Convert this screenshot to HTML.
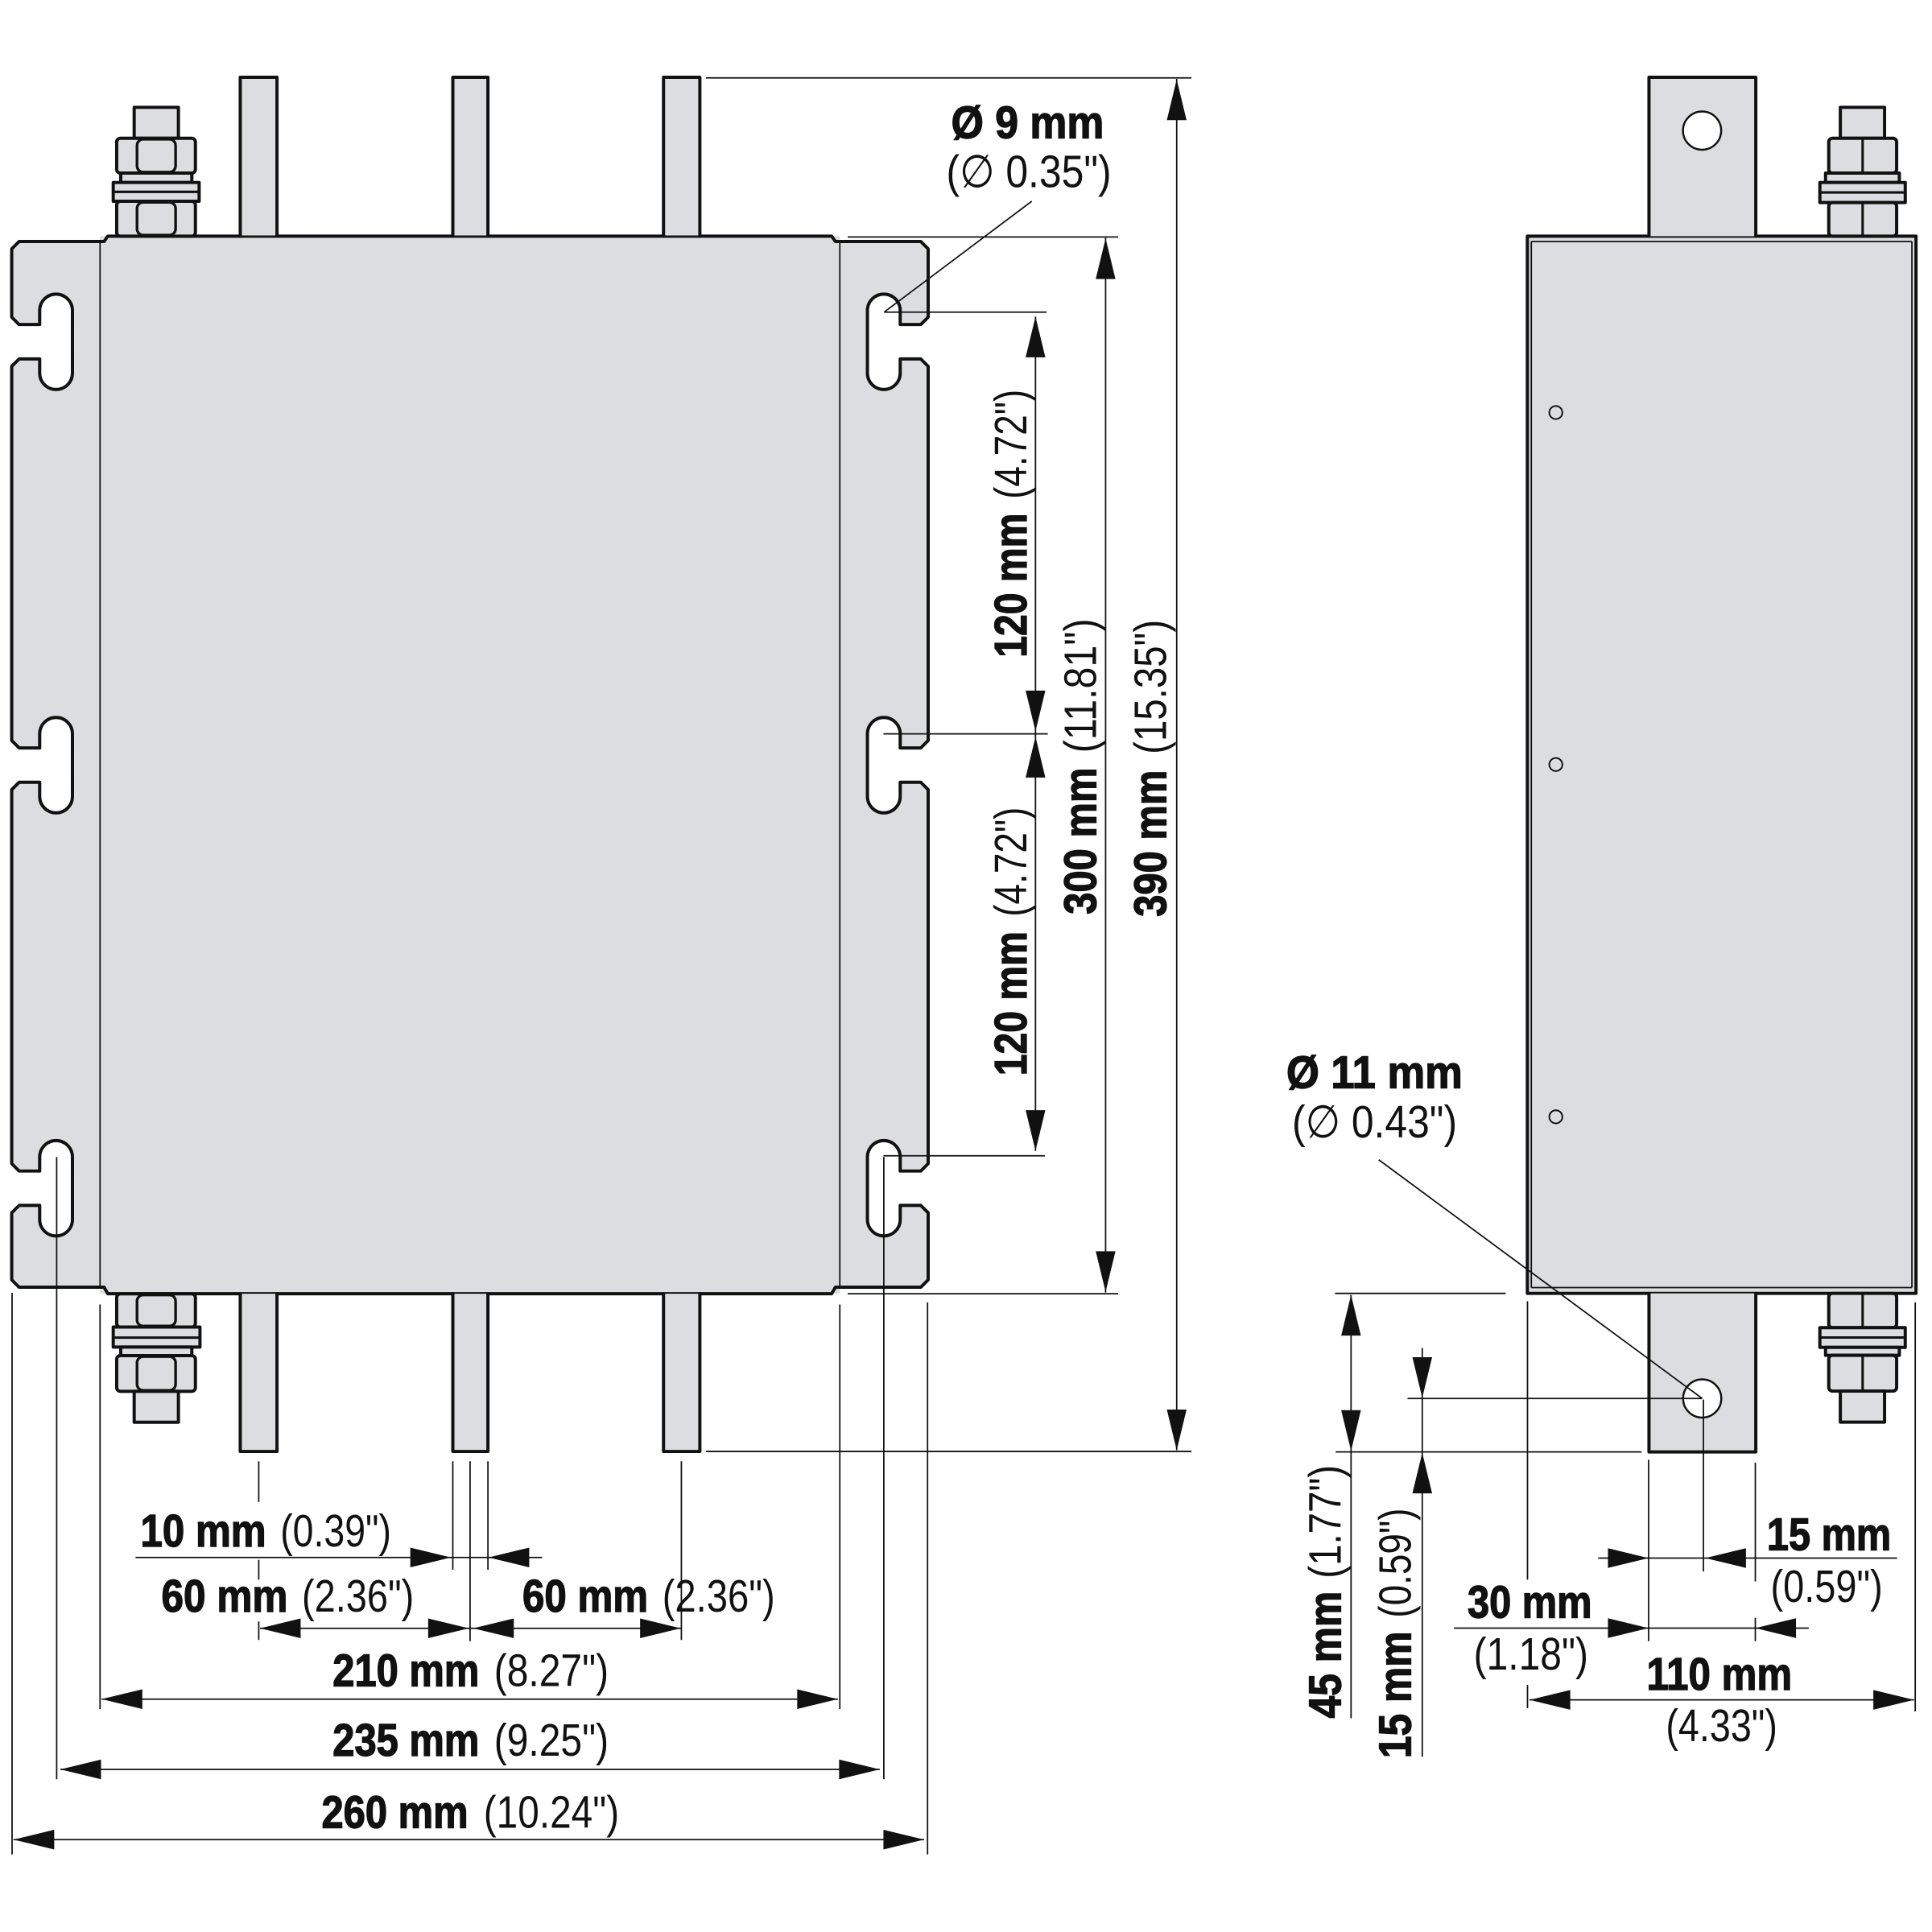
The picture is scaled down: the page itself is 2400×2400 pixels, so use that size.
<!DOCTYPE html>
<html><head><meta charset="utf-8"><style>
html,body{margin:0;padding:0;background:#fff}
svg{display:block}
.b{font-family:"Liberation Sans","DejaVu Sans",sans-serif;font-weight:bold;font-size:37px;fill:#111;stroke:#111;stroke-width:0.9}
.r{font-family:"Liberation Sans","DejaVu Sans",sans-serif;font-weight:normal;font-size:37px;fill:#111}
.th{fill:none;stroke:#111;stroke-width:2.6;stroke-linejoin:round;stroke-linecap:round}
.tn{fill:none;stroke:#111;stroke-width:1.15}
.md{fill:none;stroke:#111;stroke-width:2}
.g{fill:#dcdde0}
.gs{fill:#dcdde0;stroke:#111;stroke-width:2.6;stroke-linejoin:round}
.gm{fill:#dcdde0;stroke:#111;stroke-width:2.2;stroke-linejoin:round}
.ah{fill:#111}
</style></head><body>
<svg width="2400" height="2400" viewBox="0 0 1568 1568" xmlns="http://www.w3.org/2000/svg">

<rect class="g" x="81.2" y="191.7" width="600.4" height="858.3"/>
<path class="g" d="M681.6,196 L747.3,196 L753.3,202 L753.3,257.4 L747.3,263.4 L730.6,263.4 L730.6,252 A13.3 13.3 0 0 0 704,252 L704,302.8 A13.3 13.3 0 0 0 730.6,302.8 L730.6,291.3 L747.3,291.3 L753.3,297.3 L753.3,601 L747.3,607 L730.6,607 L730.6,595.6 A13.3 13.3 0 0 0 704,595.6 L704,646.4 A13.3 13.3 0 0 0 730.6,646.4 L730.6,634.9 L747.3,634.9 L753.3,640.9 L753.3,944.4 L747.3,950.4 L730.6,950.4 L730.6,939 A13.3 13.3 0 0 0 704,939 L704,989.8 A13.3 13.3 0 0 0 730.6,989.8 L730.6,978.3 L747.3,978.3 L753.3,984.3 L753.3,1038.7 L747.3,1044.7 L681.6,1044.7 Z"/>
<path class="g" d="M81.2,196 L15.5,196 L9.5,202 L9.5,257.4 L15.5,263.4 L32.2,263.4 L32.2,252 A13.3 13.3 0 0 1 58.8,252 L58.8,302.8 A13.3 13.3 0 0 1 32.2,302.8 L32.2,291.3 L15.5,291.3 L9.5,297.3 L9.5,601 L15.5,607 L32.2,607 L32.2,595.6 A13.3 13.3 0 0 1 58.8,595.6 L58.8,646.4 A13.3 13.3 0 0 1 32.2,646.4 L32.2,634.9 L15.5,634.9 L9.5,640.9 L9.5,944.4 L15.5,950.4 L32.2,950.4 L32.2,939 A13.3 13.3 0 0 1 58.8,939 L58.8,989.8 A13.3 13.3 0 0 1 32.2,989.8 L32.2,978.3 L15.5,978.3 L9.5,984.3 L9.5,1038.7 L15.5,1044.7 L81.2,1044.7 Z"/>
<path class="th" d="M681.6,196 L747.3,196 L753.3,202 L753.3,257.4 L747.3,263.4 L730.6,263.4 L730.6,252 A13.3 13.3 0 0 0 704,252 L704,302.8 A13.3 13.3 0 0 0 730.6,302.8 L730.6,291.3 L747.3,291.3 L753.3,297.3 L753.3,601 L747.3,607 L730.6,607 L730.6,595.6 A13.3 13.3 0 0 0 704,595.6 L704,646.4 A13.3 13.3 0 0 0 730.6,646.4 L730.6,634.9 L747.3,634.9 L753.3,640.9 L753.3,944.4 L747.3,950.4 L730.6,950.4 L730.6,939 A13.3 13.3 0 0 0 704,939 L704,989.8 A13.3 13.3 0 0 0 730.6,989.8 L730.6,978.3 L747.3,978.3 L753.3,984.3 L753.3,1038.7 L747.3,1044.7 L681.6,1044.7"/>
<path class="th" d="M81.2,196 L15.5,196 L9.5,202 L9.5,257.4 L15.5,263.4 L32.2,263.4 L32.2,252 A13.3 13.3 0 0 1 58.8,252 L58.8,302.8 A13.3 13.3 0 0 1 32.2,302.8 L32.2,291.3 L15.5,291.3 L9.5,297.3 L9.5,601 L15.5,607 L32.2,607 L32.2,595.6 A13.3 13.3 0 0 1 58.8,595.6 L58.8,646.4 A13.3 13.3 0 0 1 32.2,646.4 L32.2,634.9 L15.5,634.9 L9.5,640.9 L9.5,944.4 L15.5,950.4 L32.2,950.4 L32.2,939 A13.3 13.3 0 0 1 58.8,939 L58.8,989.8 A13.3 13.3 0 0 1 32.2,989.8 L32.2,978.3 L15.5,978.3 L9.5,984.3 L9.5,1038.7 L15.5,1044.7 L81.2,1044.7"/>
<path class="th" d="M81.2,196 L84.5,196 L87.5,191.7 L675,191.7 L678,196 L681.6,196"/>
<path class="th" d="M81.2,1044.7 L84.5,1044.7 L87.5,1050 L675,1050 L678,1044.7 L681.6,1044.7"/>
<line class="tn" x1="81.2" y1="196" x2="81.2" y2="1044.7"/>
<line class="tn" x1="681.6" y1="196" x2="681.6" y2="1044.7"/>

<rect class="g" x="195" y="62.7" width="29.8" height="129"/>
<rect class="g" x="367.5" y="62.7" width="28.5" height="129"/>
<rect class="g" x="538.5" y="62.7" width="29.5" height="129"/>
<path class="th" d="M195,191.7 L195,62.7 L224.8,62.7 L224.8,191.7"/>
<path class="th" d="M367.5,191.7 L367.5,62.7 L396,62.7 L396,191.7"/>
<path class="th" d="M538.5,191.7 L538.5,62.7 L568,62.7 L568,191.7"/>
<line class="tn" x1="195" y1="191.7" x2="224.8" y2="191.7"/>
<line class="tn" x1="367.5" y1="191.7" x2="396" y2="191.7"/>
<line class="tn" x1="538.5" y1="191.7" x2="568" y2="191.7"/>
<rect class="g" x="195" y="1050" width="29.8" height="128"/>
<rect class="g" x="367.5" y="1050" width="28.5" height="128"/>
<rect class="g" x="538.5" y="1050" width="29.5" height="128"/>
<path class="th" d="M195,1050 L195,1178 L224.8,1178 L224.8,1050"/>
<path class="th" d="M367.5,1050 L367.5,1178 L396,1178 L396,1050"/>
<path class="th" d="M538.5,1050 L538.5,1178 L568,1178 L568,1050"/>

<rect class="gs" x="108.9" y="87.1" width="35.9" height="25.1"/>
<rect class="gs" x="94.7" y="112.2" width="63.9" height="28.3" rx="3"/>
<rect class="gm" x="111.2" y="113" width="31.3" height="26.7" rx="5"/>
<rect class="gs" x="98" y="140.5" width="57.7" height="7.6"/>
<rect class="gs" x="91.9" y="148.1" width="69.7" height="15.2"/>
<line class="md" x1="92" y1="155.7" x2="161.5" y2="155.7"/>
<rect class="gs" x="94.7" y="163.3" width="63.9" height="28.4" rx="3"/>
<rect class="gm" x="111.2" y="164.2" width="31.3" height="26.6" rx="5"/>
<rect class="gs" x="94.7" y="1050.1" width="63.9" height="26.9" rx="3"/>
<rect class="gm" x="111.2" y="1051" width="31.3" height="25.2" rx="5"/>
<rect class="gs" x="91.9" y="1077" width="70.4" height="16.3"/>
<line class="md" x1="92" y1="1085.6" x2="162.2" y2="1085.6"/>
<rect class="gs" x="98" y="1093.3" width="57.7" height="6.9"/>
<rect class="gs" x="94.7" y="1100.2" width="63.9" height="29" rx="3"/>
<rect class="gm" x="111.2" y="1101" width="31.3" height="27.4" rx="5"/>
<rect class="gs" x="108.9" y="1129.2" width="35.9" height="25.1"/>

<rect class="gs" x="1239.6" y="191.7" width="315.4" height="858"/>
<line class="tn" x1="1242.8" y1="196" x2="1242.8" y2="1045"/>
<line class="tn" x1="1551.7" y1="196" x2="1551.7" y2="1045"/>
<line class="tn" x1="1242.8" y1="196" x2="1551.7" y2="196"/>
<line class="tn" x1="1242.8" y1="1045" x2="1551.7" y2="1045"/>
<circle cx="1262.7" cy="334.8" r="5.3" fill="none" stroke="#111" stroke-width="1.3"/>
<circle cx="1262.7" cy="620.5" r="5.3" fill="none" stroke="#111" stroke-width="1.3"/>
<circle cx="1262.7" cy="906.4" r="5.3" fill="none" stroke="#111" stroke-width="1.3"/>
<rect class="g" x="1338.3" y="62.7" width="86.7" height="129"/>
<path class="th" d="M1338.3,191.7 L1338.3,62.7 L1425,62.7 L1425,191.7"/>
<circle cx="1381.4" cy="106" r="15.5" fill="#fff" stroke="#111" stroke-width="1.6"/>
<rect class="g" x="1338.3" y="1049.7" width="86.7" height="128.7"/>
<path class="th" d="M1338.3,1049.7 L1338.3,1178.4 L1425,1178.4 L1425,1049.7"/>
<circle cx="1381.5" cy="1135" r="15.5" fill="#fff" stroke="#111" stroke-width="1.6"/>
<rect class="gs" x="1493.6" y="87.1" width="35.9" height="25.1"/>
<rect class="gs" x="1484.2" y="112.2" width="55.1" height="28.3" rx="3"/>
<line class="md" x1="1511.7" y1="112.2" x2="1511.7" y2="140.5"/>
<rect class="gs" x="1481.6" y="140.5" width="59.9" height="7.6"/>
<rect class="gs" x="1477" y="148.1" width="69.3" height="16.3"/>
<line class="md" x1="1477" y1="156.2" x2="1546.3" y2="156.2"/>
<rect class="gs" x="1484.2" y="164.4" width="55.1" height="27.3" rx="3"/>
<line class="md" x1="1511.7" y1="164.4" x2="1511.7" y2="191.7"/>
<rect class="gs" x="1484.2" y="1049.7" width="55.1" height="27.8" rx="3"/>
<line class="md" x1="1511.7" y1="1049.7" x2="1511.7" y2="1077.5"/>
<rect class="gs" x="1477" y="1077.5" width="69.3" height="16"/>
<line class="md" x1="1477" y1="1085.5" x2="1546.3" y2="1085.5"/>
<rect class="gs" x="1481.6" y="1093.5" width="59.9" height="6.5"/>
<rect class="gs" x="1484.2" y="1100" width="55.1" height="29" rx="3"/>
<line class="md" x1="1511.7" y1="1100" x2="1511.7" y2="1129"/>
<rect class="gs" x="1493.6" y="1129" width="35.9" height="25.2"/>

<g class="tn">
<line x1="573" y1="63.2" x2="967" y2="63.2"/>
<line x1="573" y1="1178" x2="967" y2="1178"/>
<line x1="955" y1="64" x2="955" y2="1177"/>
<line x1="688" y1="192.3" x2="907.5" y2="192.3"/>
<line x1="688" y1="1050" x2="907.5" y2="1050"/>
<line x1="897.3" y1="193" x2="897.3" y2="1049"/>
<line x1="717.6" y1="253.3" x2="849.4" y2="253.3"/>
<line x1="717" y1="595.6" x2="850.4" y2="595.6"/>
<line x1="717" y1="938" x2="848" y2="938"/>
<line x1="840.4" y1="257" x2="840.4" y2="934"/>
<line x1="837.4" y1="163.3" x2="717.6" y2="253.3"/>
<line x1="210" y1="1186" x2="210" y2="1219"/>
<line x1="210" y1="1266" x2="210" y2="1282"/>
<line x1="210" y1="1316" x2="210" y2="1331"/>
<line x1="367.5" y1="1186" x2="367.5" y2="1274"/>
<line x1="396" y1="1186" x2="396" y2="1274"/>
<line x1="381.5" y1="1186" x2="381.5" y2="1332"/>
<line x1="553" y1="1186" x2="553" y2="1331"/>
<line x1="81.2" y1="1058.7" x2="81.2" y2="1387"/>
<line x1="681.6" y1="1058.7" x2="681.6" y2="1387"/>
<line x1="46" y1="939" x2="46" y2="1444"/>
<line x1="717.3" y1="939" x2="717.3" y2="1444"/>
<line x1="9.8" y1="1049.3" x2="9.8" y2="1505"/>
<line x1="752.8" y1="1057" x2="752.8" y2="1505"/>
<line x1="110" y1="1264" x2="440" y2="1264"/>
<line x1="211" y1="1321.5" x2="552.5" y2="1321.5"/>
<line x1="82.5" y1="1379" x2="680" y2="1379"/>
<line x1="49" y1="1436" x2="714" y2="1436"/>
<line x1="11" y1="1493" x2="750" y2="1493"/>
<line x1="1083.5" y1="1049.7" x2="1222" y2="1049.7"/>
<line x1="1084" y1="1178.4" x2="1332.3" y2="1178.4"/>
<line x1="1096.5" y1="1051" x2="1096.5" y2="1394.5"/>
<line x1="1142.3" y1="1135" x2="1381.5" y2="1135"/>
<line x1="1154.3" y1="1094" x2="1154.3" y2="1425.7"/>
<line x1="1297" y1="1264.5" x2="1539.7" y2="1264.5"/>
<line x1="1180" y1="1321.4" x2="1468" y2="1321.4"/>
<line x1="1241.4" y1="1379.6" x2="1553.4" y2="1379.6"/>
<line x1="1239.7" y1="1056" x2="1239.7" y2="1282"/>
<line x1="1239.7" y1="1367.5" x2="1239.7" y2="1386.4"/>
<line x1="1338" y1="1184.7" x2="1338" y2="1332"/>
<line x1="1382.5" y1="1135.9" x2="1382.5" y2="1275.4"/>
<line x1="1424.6" y1="1187" x2="1424.6" y2="1283.5"/>
<line x1="1424.6" y1="1313" x2="1424.6" y2="1332"/>
<line x1="1554.4" y1="1057" x2="1554.4" y2="1389"/>
<line x1="1119" y1="941.3" x2="1381.5" y2="1135"/>
</g>

<g class="ah">
<polygon points="955,64.5 947,97.5 963,97.5"/>
<polygon points="955,1177 947,1144 963,1144"/>
<polygon points="897.3,193.5 889.3,226.5 905.3,226.5"/>
<polygon points="897.3,1048.5 889.3,1015.5 905.3,1015.5"/>
<polygon points="840.4,257 832.4,290 848.4,290"/>
<polygon points="840.4,593.5 832.4,560.5 848.4,560.5"/>
<polygon points="840.4,598 832.4,631 848.4,631"/>
<polygon points="840.4,934 832.4,901 848.4,901"/>
<polygon points="366,1264 333,1256 333,1272"/>
<polygon points="396.5,1264 429.5,1256 429.5,1272"/>
<polygon points="211,1321.5 244,1313.5 244,1329.5"/>
<polygon points="380.5,1321.5 347.5,1313.5 347.5,1329.5"/>
<polygon points="384,1321.5 417,1313.5 417,1329.5"/>
<polygon points="552.5,1321.5 519.5,1313.5 519.5,1329.5"/>
<polygon points="82.5,1379 115.5,1371 115.5,1387"/>
<polygon points="680,1379 647,1371 647,1387"/>
<polygon points="49,1436 82,1428 82,1444"/>
<polygon points="714,1436 681,1428 681,1444"/>
<polygon points="11,1493 44,1485 44,1501"/>
<polygon points="750,1493 717,1485 717,1501"/>
<polygon points="1096.5,1051 1088.5,1084 1104.5,1084"/>
<polygon points="1096.5,1177.5 1088.5,1144.5 1104.5,1144.5"/>
<polygon points="1154.3,1134.5 1146.3,1101.5 1162.3,1101.5"/>
<polygon points="1154.3,1179 1146.3,1212 1162.3,1212"/>
<polygon points="1338,1264.5 1305,1256.5 1305,1272.5"/>
<polygon points="1384,1264.5 1417,1256.5 1417,1272.5"/>
<polygon points="1338,1321.4 1305,1313.4 1305,1329.4"/>
<polygon points="1424.6,1321.4 1457.6,1313.4 1457.6,1329.4"/>
<polygon points="1241.4,1379.6 1274.4,1371.6 1274.4,1387.6"/>
<polygon points="1553.4,1379.6 1520.4,1371.6 1520.4,1387.6"/>
</g>

<text class="b" x="772" y="112" textLength="124" lengthAdjust="spacingAndGlyphs">Ø 9 mm</text>
<text class="r" x="768" y="152" textLength="134" lengthAdjust="spacingAndGlyphs">(∅ 0.35")</text>
<text class="b" x="1044" y="883" textLength="143" lengthAdjust="spacingAndGlyphs">Ø 11 mm</text>
<text class="r" x="1048.6" y="923" textLength="134" lengthAdjust="spacingAndGlyphs">(∅ 0.43")</text>

<text class="b" x="114" y="1255" textLength="102" lengthAdjust="spacingAndGlyphs">10 mm</text>
<text class="r" x="227.5" y="1255" textLength="90" lengthAdjust="spacingAndGlyphs">(0.39")</text>
<text class="b" x="131" y="1308" textLength="102.5" lengthAdjust="spacingAndGlyphs">60 mm</text>
<text class="r" x="245" y="1308" textLength="91" lengthAdjust="spacingAndGlyphs">(2.36")</text>
<text class="b" x="424" y="1308" textLength="102" lengthAdjust="spacingAndGlyphs">60 mm</text>
<text class="r" x="537.5" y="1308" textLength="91.5" lengthAdjust="spacingAndGlyphs">(2.36")</text>
<text class="b" x="270" y="1368.5" textLength="119" lengthAdjust="spacingAndGlyphs">210 mm</text>
<text class="r" x="401" y="1368.5" textLength="93" lengthAdjust="spacingAndGlyphs">(8.27")</text>
<text class="b" x="270" y="1425" textLength="119" lengthAdjust="spacingAndGlyphs">235 mm</text>
<text class="r" x="401" y="1425" textLength="93" lengthAdjust="spacingAndGlyphs">(9.25")</text>
<text class="b" x="261" y="1483.5" textLength="119" lengthAdjust="spacingAndGlyphs">260 mm</text>
<text class="r" x="392.5" y="1483.5" textLength="110" lengthAdjust="spacingAndGlyphs">(10.24")</text>

<text class="b" x="1434" y="1258" textLength="100.8" lengthAdjust="spacingAndGlyphs">15 mm</text>
<text class="r" x="1437" y="1300" textLength="91" lengthAdjust="spacingAndGlyphs">(0.59")</text>
<text class="b" x="1191" y="1313" textLength="101" lengthAdjust="spacingAndGlyphs">30 mm</text>
<text class="r" x="1196" y="1355" textLength="93" lengthAdjust="spacingAndGlyphs">(1.18")</text>
<text class="b" x="1336.4" y="1371.5" textLength="118" lengthAdjust="spacingAndGlyphs">110 mm</text>
<text class="r" x="1352" y="1413" textLength="90.5" lengthAdjust="spacingAndGlyphs">(4.33")</text>

<text class="b" transform="translate(833 533.6) rotate(-90)" textLength="117" lengthAdjust="spacingAndGlyphs">120 mm</text>
<text class="r" transform="translate(833 405) rotate(-90)" textLength="89" lengthAdjust="spacingAndGlyphs">(4.72")</text>
<text class="b" transform="translate(833 873) rotate(-90)" textLength="117" lengthAdjust="spacingAndGlyphs">120 mm</text>
<text class="r" transform="translate(833 744) rotate(-90)" textLength="89" lengthAdjust="spacingAndGlyphs">(4.72")</text>
<text class="b" transform="translate(889.6 742) rotate(-90)" textLength="119" lengthAdjust="spacingAndGlyphs">300 mm</text>
<text class="r" transform="translate(889.6 611) rotate(-90)" textLength="109" lengthAdjust="spacingAndGlyphs">(11.81")</text>
<text class="b" transform="translate(946.2 744) rotate(-90)" textLength="119" lengthAdjust="spacingAndGlyphs">390 mm</text>
<text class="r" transform="translate(946.2 612) rotate(-90)" textLength="109" lengthAdjust="spacingAndGlyphs">(15.35")</text>
<text class="b" transform="translate(1088 1394.5) rotate(-90)" textLength="103" lengthAdjust="spacingAndGlyphs">45 mm</text>
<text class="r" transform="translate(1088 1281) rotate(-90)" textLength="92" lengthAdjust="spacingAndGlyphs">(1.77")</text>
<text class="b" transform="translate(1145 1427) rotate(-90)" textLength="103" lengthAdjust="spacingAndGlyphs">15 mm</text>
<text class="r" transform="translate(1145 1313) rotate(-90)" textLength="89" lengthAdjust="spacingAndGlyphs">(0.59")</text>
</svg>
</body></html>
